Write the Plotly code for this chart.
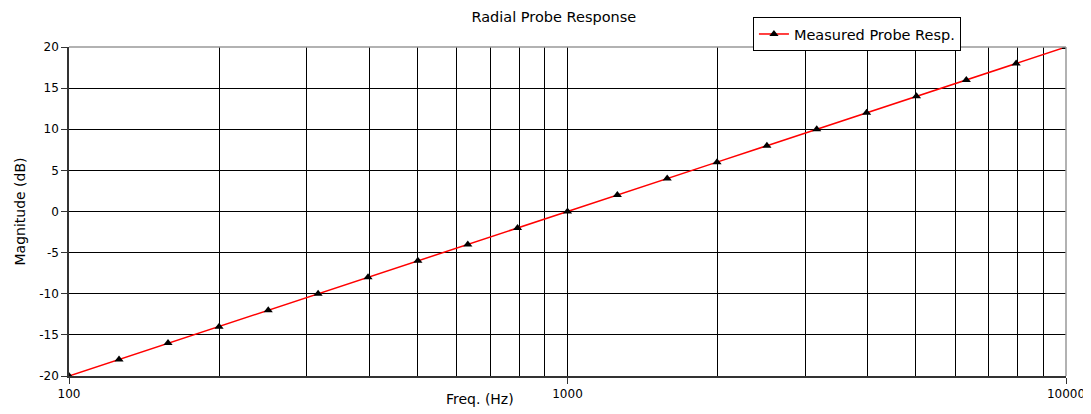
import plotly.graph_objects as go

# Respuesta de la sonda radial
frecuencias = [100, 126, 158, 200, 251, 316, 398, 501, 631, 794, 1000,
               1259, 1585, 1995, 2512, 3162, 3981, 5012, 6310, 7943, 10000]
magnitudes = [-20, -18, -16, -14, -12, -10, -8, -6, -4, -2, 0,
              2, 4, 6, 8, 10, 12, 14, 16, 18, 20]

ticks_x = [100, 1000, 10000]
ticks_menores = [200, 300, 400, 500, 600, 700, 800, 900,
                 2000, 3000, 4000, 5000, 6000, 7000, 8000, 9000]
ticks_y = [-20, -15, -10, -5, 0, 5, 10, 15, 20]

fuente = "DejaVu Sans, Verdana, sans-serif"

fig = go.Figure()
fig.add_trace(go.Scatter(
    x=frecuencias,
    y=magnitudes,
    mode='lines+markers',
    name='Measured Probe Resp.',
    line=dict(color='#ff0000', width=1.5),
    marker=dict(symbol='triangle-up', color='black', size=8),
))

# la página añade 8 px de margen, el tamaño se ajusta para compensarlo
fig.update_layout(
    width=1083,
    height=406,
    margin=dict(l=61, r=25, t=39, b=38, autoexpand=False),
    paper_bgcolor='white',
    plot_bgcolor='white',
    font=dict(family=fuente, size=12, color='black'),
    title=dict(text='Radial Probe Response', x=0.504, xanchor='center',
               y=1 - 9 / 406, yanchor='middle', font=dict(size=14.5)),
    showlegend=True,
    legend=dict(x=0.686, y=1.091, xanchor='left', yanchor='top',
                bordercolor='black', borderwidth=1, bgcolor='white',
                font=dict(size=14.5), itemwidth=30,
                tracegroupgap=0),
    xaxis=dict(
        type='log', range=[2, 4],
        tickmode='array', tickvals=ticks_x, ticktext=[str(v) for v in ticks_x],
        showgrid=True, gridcolor='black', gridwidth=1,
        minor=dict(tickmode='array', tickvals=ticks_menores, showgrid=True,
                   gridcolor='black', gridwidth=1, ticks=''),
        showline=True, linecolor='#333333', linewidth=1.5,
        ticks='outside', ticklen=6, tickcolor='#333333',
        zeroline=False, tickfont=dict(size=12),
    ),
    yaxis=dict(
        range=[-20, 20], tickmode='array', tickvals=ticks_y,
        ticktext=[str(v) for v in ticks_y],
        showgrid=True, gridcolor='black', gridwidth=1,
        showline=True, linecolor='#333333', linewidth=1.5,
        ticks='outside', ticklen=6, tickcolor='#333333',
        zeroline=False, tickfont=dict(size=12),
        title=dict(text='Magnitude (dB)', font=dict(size=14), standoff=10),
    ),
    shapes=[
        dict(type='line', xref='paper', yref='paper', x0=0, x1=1, y0=1, y1=1,
             line=dict(color='#999999', width=1.5), layer='above'),
        dict(type='line', xref='paper', yref='paper', x0=1, x1=1, y0=0, y1=1,
             line=dict(color='#999999', width=1.5), layer='above'),
    ],
    annotations=[
        dict(text='Freq. (Hz)', xref='paper', yref='paper', x=0.412, y=-0.07,
             xanchor='center', yanchor='middle', showarrow=False,
             font=dict(size=14)),
    ],
)

fig.write_html("out.html")
